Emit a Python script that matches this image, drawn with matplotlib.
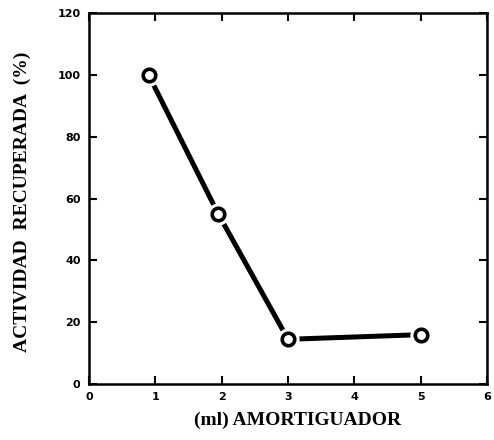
import matplotlib.pyplot as plt

# volumen de amortiguador (ml) y actividad recuperada (%)
volumen = [0.9, 1.95, 3.0, 5.0]
actividad = [100, 55, 14.5, 16]

x_ticks = [1, 2, 3, 4, 5]
y_ticks = [20, 40, 60, 80, 100]

fig = plt.figure(figsize=(4.94, 4.4), dpi=100)
ax = fig.add_axes([0.180, 0.127, 0.806, 0.843])

ax.plot(volumen, actividad, color='black', lw=3.6, solid_capstyle='butt', zorder=2)
# halo blanco para separar la linea de los circulos
ax.plot(volumen, actividad, 'o', ms=15, color='white', mec='white', zorder=3)
ax.plot(volumen, actividad, 'o', ms=9, mfc='white', mec='black', mew=2.6, zorder=4)

ax.set_xlim(0, 6)
ax.set_ylim(0, 120)
ax.set_xticks([0] + x_ticks + [6])
ax.set_yticks([0] + y_ticks + [120])
ax.set_xticklabels(['0'] + [str(t) for t in x_ticks] + ['6'], fontweight='bold', fontsize=8)
ax.set_yticklabels(['0'] + [str(t) for t in y_ticks] + ['120'], fontweight='bold', fontsize=8)
ax.tick_params(direction='in', length=6, width=1.5, top=True, right=True, pad=6)

for s in ax.spines.values():
    s.set_linewidth(1.8)

fig.text(0.045, 0.541, 'ACTIVIDAD  RECUPERADA  (%)', family='Liberation Serif',
         fontsize=14, fontweight='bold', rotation=90, ha='center', va='center')
fig.text(0.603, 0.045, '(ml) AMORTIGUADOR', family='Liberation Serif',
         fontsize=14, fontweight='bold', ha='center', va='center')

fig.savefig('out.png', dpi=100)
